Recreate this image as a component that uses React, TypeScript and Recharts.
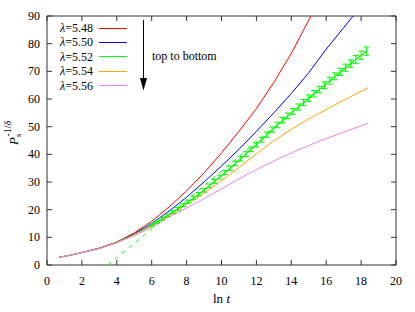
import React from 'react';
import { ComposedChart, Line, XAxis, YAxis, ReferenceArea, Legend, ErrorBar } from 'recharts';

const W = 415;
const H = 312;
const PLOT_LEFT = 47;
const PLOT_RIGHT = 396;
const PLOT_TOP = 16;
const PLOT_BOTTOM = 265;
const FONT = "'Liberation Serif', 'Times New Roman', Times, serif";

const xTicks = [0, 2, 4, 6, 8, 10, 12, 14, 16, 18, 20];
const yTicks = [0, 10, 20, 30, 40, 50, 60, 70, 80, 90];

const lnT = [0.7, 1.3, 2, 3, 4, 5, 6, 7, 8, 9, 10, 11, 12, 13, 14, 15, 16, 17, 18, 18.4];
const p548 = [2.8, 3.5, 4.5, 6.1, 8.3, 11.6, 15.8, 21, 26.8, 33.3, 40.5, 48.3, 56.5, 66, 76.5, 88.5, 100, 112, 124, 129];
const p550 = [2.8, 3.5, 4.5, 6.05, 8.2, 11.3, 15.0, 19.5, 24.5, 30, 35.8, 41.8, 48.3, 55, 62, 69.5, 78, 85.8, 93.5, 96.5];
const p552 = [2.8, 3.5, 4.5, 6.0, 8.15, 11.1, 14.4, 18.3, 22.5, 27, 32.3, 37.8, 43.5, 49.3, 54.9, 60.3, 65.5, 70.8, 75.8, 77.7];
const p554 = [2.8, 3.5, 4.5, 5.95, 8.1, 10.9, 14.0, 17.8, 21.8, 26.0, 30.4, 35.2, 40.2, 44.9, 49.0, 52.8, 56.2, 59.5, 62.8, 64.1];
const p556 = [2.8, 3.5, 4.45, 5.9, 8.0, 10.6, 13.7, 17.3, 20.6, 24.0, 27.5, 31.1, 34.5, 37.6, 40.5, 43.2, 45.7, 48.0, 50.3, 51.2];

const errX = [6.0, 6.3, 6.6, 6.9, 7.2, 7.5, 7.8, 8.1, 8.4, 8.7, 9.0, 9.3, 9.6, 9.9, 10.2, 10.5, 10.8, 11.1, 11.4, 11.7, 12.0, 12.3, 12.6, 12.9, 13.2, 13.5, 13.8, 14.1, 14.4, 14.7, 15.0, 15.3, 15.6, 15.9, 16.2, 16.5, 16.8, 17.1, 17.4, 17.7, 18.0, 18.3];
const errY = [14.4, 15.5, 16.7, 17.9, 19.1, 20.3, 21.6, 22.9, 24.2, 25.6, 27.0, 28.6, 30.2, 31.8, 33.4, 35.0, 36.7, 38.4, 40.1, 41.8, 43.5, 45.3, 47.1, 48.9, 50.6, 52.3, 53.9, 55.5, 57.1, 58.7, 60.3, 61.9, 63.4, 65.0, 66.6, 68.2, 69.8, 71.3, 72.8, 74.3, 75.8, 77.3];
const errE = [0.4, 0.4, 0.45, 0.45, 0.5, 0.5, 0.55, 0.55, 0.6, 0.6, 0.65, 0.65, 0.7, 0.7, 0.75, 0.75, 0.8, 0.8, 0.85, 0.85, 0.9, 0.9, 0.95, 0.95, 1.0, 1.0, 1.05, 1.05, 1.1, 1.1, 1.15, 1.15, 1.2, 1.2, 1.25, 1.25, 1.3, 1.3, 1.35, 1.4, 1.45, 1.5];

const fitX = [3.5, 18.3];
const fitY = [0, 77.3];

const lambdas = ['5.48', '5.50', '5.52', '5.54', '5.56'];
const colors = ['#ff0000', '#0000ff', '#00ff00', '#ffa500', '#ee82ee'];
const seriesVals = [p548, p550, p552, p554, p556];

const seriesData = seriesVals.map((vals) => lnT.map((x, i) => ({ x, y: vals[i] })));
const errData = errX.map((x, i) => ({ x, y: errY[i], e: errE[i] }));
const fitData = fitX.map((x, i) => ({ x, y: fitY[i] }));

const XTick = (props: any) => {
  const { x, y, payload } = props;
  return (
    <g>
      <line x1={x} y1={PLOT_BOTTOM} x2={x} y2={PLOT_BOTTOM - 5} stroke="#333" />
      <line x1={x} y1={PLOT_TOP} x2={x} y2={PLOT_TOP + 5} stroke="#333" />
      <text x={x} y={y + 20} textAnchor="middle" fontSize={12} fontFamily={FONT} fill="#000">
        {payload.value}
      </text>
    </g>
  );
};

const YTick = (props: any) => {
  const { y, payload } = props;
  return (
    <g>
      <line x1={PLOT_LEFT} y1={y} x2={PLOT_LEFT + 5} y2={y} stroke="#333" />
      <line x1={PLOT_RIGHT} y1={y} x2={PLOT_RIGHT - 5} y2={y} stroke="#333" />
      <text x={PLOT_LEFT - 7} y={y + 4} textAnchor="end" fontSize={12} fontFamily={FONT} fill="#000">
        {payload.value}
      </text>
    </g>
  );
};

const LegendBox = () => (
  <div style={{ fontFamily: FONT, fontSize: 12, color: '#000', lineHeight: '14.4px' }}>
    {lambdas.map((l, i) => (
      <div key={l} style={{ display: 'flex', alignItems: 'center', height: 14.4 }}>
        <span style={{ width: 38, textAlign: 'right', whiteSpace: 'nowrap', fontFamily: FONT }}>
          <i>λ</i>={l}
        </span>
        <svg width={28} height={3} style={{ marginLeft: 6, display: 'block' }}>
          <line x1={0} y1={1.5} x2={28} y2={1.5} stroke={colors[i]} strokeWidth={1} />
        </svg>
      </div>
    ))}
  </div>
);

const Annotations = () => (
  <g>
    <line x1={143.5} y1={20} x2={143.5} y2={80} stroke="#000" strokeWidth={1} />
    <polygon points="143.5,90.5 140,78 147,78" fill="#000" />
    <text x={152} y={60} fontSize={12} fontFamily={FONT} fill="#000">top to bottom</text>
    <text x={(PLOT_LEFT + PLOT_RIGHT) / 2} y={303} textAnchor="middle" fontSize={13} fontFamily={FONT} fill="#000">
      ln <tspan fontStyle="italic">t</tspan>
    </text>
    <text transform="rotate(-90)" x={-145} y={18} fontSize={13} fontFamily={FONT} fill="#000">
      <tspan fontStyle="italic">P</tspan>
      <tspan fontSize={9} dy={3}>s</tspan>
      <tspan fontSize={10} dx={-3} dy={-10}>-1/</tspan>
      <tspan fontSize={10} fontStyle="italic">δ</tspan>
    </text>
  </g>
);

export default function App() {
  return (
    <div style={{ position: 'absolute', left: 0, top: 0, width: W, height: H, background: '#fff', fontFamily: FONT }}>
      <ComposedChart width={W} height={H} margin={{ top: PLOT_TOP, right: W - PLOT_RIGHT, bottom: H - PLOT_BOTTOM - 47, left: 0 }}>
        <XAxis
          type="number"
          dataKey="x"
          domain={[0, 20]}
          ticks={xTicks}
          height={47}
          axisLine={false}
          tickLine={false}
          tickSize={0}
          tickMargin={0}
          tick={<XTick />}
          allowDataOverflow
        />
        <YAxis
          type="number"
          domain={[0, 90]}
          ticks={yTicks}
          width={PLOT_LEFT}
          axisLine={false}
          tickLine={false}
          tickSize={0}
          tickMargin={0}
          tick={<YTick />}
          allowDataOverflow
        />
        <ReferenceArea x1={0} x2={20} y1={0} y2={90} fill="none" stroke="#333" strokeWidth={1} />
        <Line data={fitData} dataKey="y" stroke="#00ff00" strokeDasharray="4 5" dot={false} isAnimationActive={false} legendType="none" />
        {seriesData.map((d, i) => (
          <Line key={lambdas[i]} data={d} dataKey="y" stroke={colors[i]} strokeWidth={1} dot={false} isAnimationActive={false} />
        ))}
        <Line data={errData} dataKey="y" stroke="#00ff00" strokeWidth={1} dot={false} isAnimationActive={false} legendType="none">
          <ErrorBar dataKey="e" width={3} stroke="#00ff00" strokeWidth={1} direction="y" />
        </Line>
        <Legend
          layout="vertical"
          align="center"
          verticalAlign="middle"
          content={() => <LegendBox />}
          wrapperStyle={{ position: 'absolute', left: 55, top: 21, width: 80 }}
        />
        <Annotations />
      </ComposedChart>
    </div>
  );
}
